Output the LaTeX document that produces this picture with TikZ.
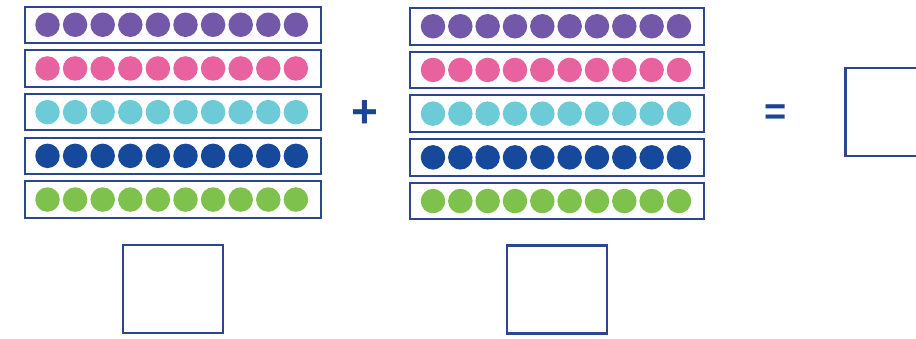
\documentclass[tikz,border=0pt]{standalone}
\usepackage{fontspec}
\setmainfont{Liberation Sans}
\usepackage{xcolor}
\usetikzlibrary{positioning,calc}
\definecolor{frameblue}{RGB}{46,70,140}
\definecolor{signblue}{RGB}{28,68,145}
\definecolor{beadpurple}{RGB}{115,88,170}
\definecolor{beadpink}{RGB}{232,98,160}
\definecolor{beadcyan}{RGB}{108,203,214}
\definecolor{beadnavy}{RGB}{22,72,155}
\definecolor{beadgreen}{RGB}{126,193,76}

\begin{document}
\begin{tikzpicture}[
    x=1pt, y=-1pt,
    strip/.style={rectangle, draw=frameblue, line width=2pt, minimum height=36.5pt, inner sep=0pt, anchor=north west},
    bead/.style={circle, inner sep=0pt, minimum size=24.5pt},
    ansbox/.style={rectangle, draw=frameblue, line width=2.2pt, minimum width=100pt, minimum height=88pt, inner sep=0pt},
    sign/.style={font=\fontsize{46}{46}\selectfont\bfseries, text=signblue, inner sep=0pt}
]
\useasboundingbox (0,0) rectangle (916,338);
\clip (0,0) rectangle (916,338);

% left ten-frame strips
\foreach \c [count=\i] in {beadpurple,beadpink,beadcyan,beadnavy,beadgreen} {
    \node[strip, minimum width=296pt] (L\i) at (24, 5.5+43.7*\i-43.7) {};
    \foreach \k in {0,...,9}
        \node[bead, fill=\c] (L\i-\k) at ($(L\i.west)+(23.5+27.6*\k,0)$) {};
}

% right ten-frame strips
\foreach \c [count=\i] in {beadpurple,beadpink,beadcyan,beadnavy,beadgreen} {
    \node[strip, minimum width=294pt] (R\i) at (409, 7+43.7*\i-43.7) {};
    \foreach \k in {0,...,9}
        \node[bead, fill=\c] (R\i-\k) at ($(R\i.west)+(24+27.33*\k,0)$) {};
}

\node[sign] (plus) at (365,114) {+};
\node[sign, font=\fontsize{38}{38}\selectfont\bfseries] (equals) at (776,114.5) {=};

\node[ansbox, below=25pt of L5] (sumL) {};
\node[ansbox, below=24pt of R5] (sumR) {};
\node[ansbox] (total) at (895.5,112) {};

\end{tikzpicture}
\end{document}
